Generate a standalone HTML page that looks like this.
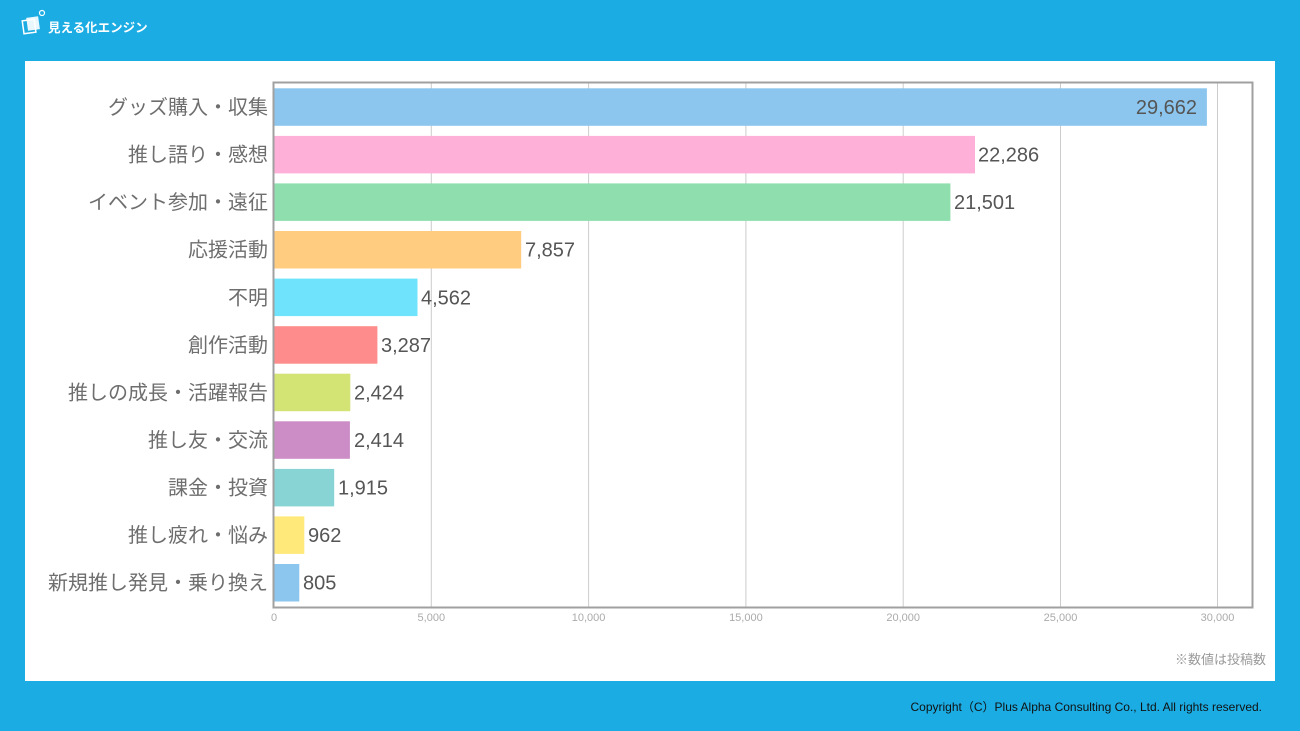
<!DOCTYPE html>
<html><head><meta charset="utf-8">
<style>
html,body{margin:0;padding:0;}
body{width:1300px;height:731px;background:#1aace3;position:relative;overflow:hidden;font-family:"Liberation Sans","Noto Sans CJK JP",sans-serif;}
#panel{position:absolute;left:25px;top:61px;width:1250px;height:620px;background:#fff;}
svg{position:absolute;left:0;top:0;}
</style></head>
<body>
<div id="panel"></div>
<svg width="1300" height="731" viewBox="0 0 1300 731" xmlns="http://www.w3.org/2000/svg" font-family="Liberation Sans, Noto Sans CJK JP, sans-serif">
  <!-- logo -->
  <g>
    <rect x="23" y="20" width="12" height="13" fill="none" stroke="#fff" stroke-width="1.5" transform="rotate(-8 29 26)"/>
    <rect x="27" y="17" width="12" height="13" fill="#fff" opacity="0.9" transform="rotate(-8 33 23)"/>
    <circle cx="42" cy="13" r="2.5" fill="none" stroke="#fff" stroke-width="1.2"/>
    <text x="48" y="32" font-size="12.5" font-weight="bold" fill="#fff">見える化エンジン</text>
  </g>

  <!-- gridlines -->
  <g stroke="#cccccc" stroke-width="1">
    <line x1="431.3" y1="83" x2="431.3" y2="607"/>
    <line x1="588.6" y1="83" x2="588.6" y2="607"/>
    <line x1="745.9" y1="83" x2="745.9" y2="607"/>
    <line x1="903.2" y1="83" x2="903.2" y2="607"/>
    <line x1="1060.5" y1="83" x2="1060.5" y2="607"/>
    <line x1="1217.5" y1="83" x2="1217.5" y2="607"/>
  </g>

  <!-- bars -->
  <g>
    <rect x="274" y="88.3" width="932.9" height="37.5" fill="#8cc6ee"/>
    <rect x="274" y="135.9" width="701.0" height="37.5" fill="#ffb0d8"/>
    <rect x="274" y="183.4" width="676.4" height="37.5" fill="#8edeae"/>
    <rect x="274" y="231.0" width="247.2" height="37.5" fill="#ffcc80"/>
    <rect x="274" y="278.6" width="143.5" height="37.5" fill="#6ee3fb"/>
    <rect x="274" y="326.2" width="103.4" height="37.5" fill="#ff8c8c"/>
    <rect x="274" y="373.7" width="76.3" height="37.5" fill="#d3e374"/>
    <rect x="274" y="421.3" width="75.9" height="37.5" fill="#cc8cc6"/>
    <rect x="274" y="468.9" width="60.2" height="37.5" fill="#88d4d4"/>
    <rect x="274" y="516.4" width="30.3" height="37.5" fill="#ffe97a"/>
    <rect x="274" y="564.0" width="25.3" height="37.5" fill="#8cc6ee"/>
  </g>

  <!-- frame -->
  <rect x="273.5" y="82.5" width="979" height="525" fill="none" stroke="#a0a0a0" stroke-width="2"/>

  <!-- category labels -->
  <g font-size="20" fill="#6e6e6e" text-anchor="end">
    <text x="268" y="114">グッズ購入・収集</text>
    <text x="268" y="161.6">推し語り・感想</text>
    <text x="268" y="209.1">イベント参加・遠征</text>
    <text x="268" y="256.7">応援活動</text>
    <text x="268" y="304.3">不明</text>
    <text x="268" y="351.9">創作活動</text>
    <text x="268" y="399.4">推しの成長・活躍報告</text>
    <text x="268" y="447">推し友・交流</text>
    <text x="268" y="494.6">課金・投資</text>
    <text x="268" y="542.1">推し疲れ・悩み</text>
    <text x="268" y="589.7">新規推し発見・乗り換え</text>
  </g>

  <!-- values -->
  <g font-size="20" fill="#555">
    <text x="1197" y="114" text-anchor="end">29,662</text>
    <text x="978" y="161.6">22,286</text>
    <text x="954" y="209.1">21,501</text>
    <text x="525" y="256.7">7,857</text>
    <text x="421" y="304.3">4,562</text>
    <text x="381" y="351.9">3,287</text>
    <text x="354" y="399.4">2,424</text>
    <text x="354" y="447">2,414</text>
    <text x="338" y="494.6">1,915</text>
    <text x="308" y="542.1">962</text>
    <text x="303" y="589.7">805</text>
  </g>

  <!-- tick labels -->
  <g font-size="11" fill="#aaa" text-anchor="middle">
    <text x="274" y="621">0</text>
    <text x="431.3" y="621">5,000</text>
    <text x="588.6" y="621">10,000</text>
    <text x="745.9" y="621">15,000</text>
    <text x="903.2" y="621">20,000</text>
    <text x="1060.5" y="621">25,000</text>
    <text x="1217.5" y="621">30,000</text>
  </g>

  <text x="1266" y="664" font-size="13" fill="#999" text-anchor="end">※数値は投稿数</text>
  <text x="1262" y="711" font-size="12" fill="#111" text-anchor="end">Copyright（C）Plus Alpha Consulting Co., Ltd. All rights reserved.</text>
</svg>
</body></html>
